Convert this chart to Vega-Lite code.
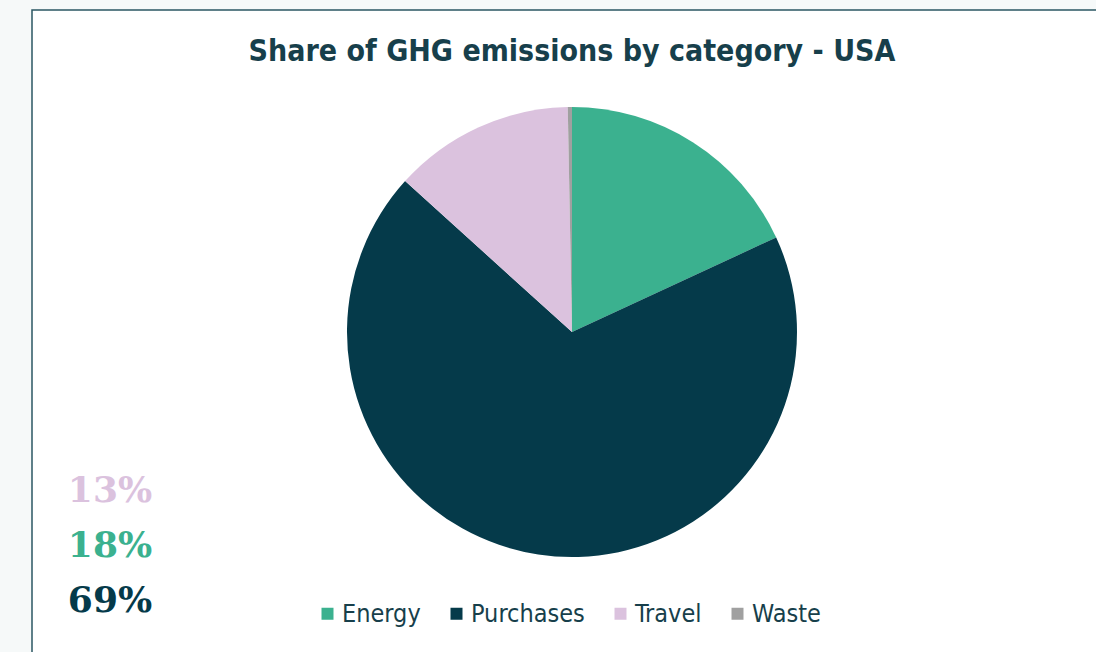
{
  "$schema": "https://vega.github.io/schema/vega-lite/v6.json",
  "autosize": {"type": "none"},
  "padding": {"left": 32, "top": 10, "right": 0, "bottom": 0},
  "width": 1080,
  "height": 644,
  "background": "#f6f9f9",
  "view": {"fill": "#ffffff", "stroke": "#2b5763", "strokeWidth": 1.5},
  "title": {
    "text": "Share of GHG emissions by category - USA",
    "font": "DejaVu Sans Condensed",
    "fontWeight": "bold",
    "fontSize": 30,
    "color": "#173f4b",
    "anchor": "middle",
    "baseline": "alphabetic",
    "offset": 0,
    "dy": 81
  },
  "data": {
    "values": [
      {"category": "Energy", "share": 0.181},
      {"category": "Purchases", "share": 0.686},
      {"category": "Travel", "share": 0.130},
      {"category": "Waste", "share": 0.003}
    ]
  },
  "layer": [
    {
      "mark": {"type": "arc", "outerRadius": 225},
      "encoding": {
        "theta": {"field": "share", "type": "quantitative", "stack": true},
        "color": {
          "field": "category",
          "type": "nominal",
          "scale": {
            "domain": ["Energy", "Purchases", "Travel", "Waste"],
            "range": ["#3bb18f", "#053a4a", "#dbc2de", "#a0a0a0"]
          },
          "legend": {
            "orient": "none",
            "legendX": 283,
            "legendY": 591,
            "direction": "horizontal",
            "title": null,
            "symbolType": "square",
            "symbolSize": 144,
            "symbolStrokeWidth": 0,
            "labelFont": "DejaVu Sans Condensed",
            "labelFontSize": 25,
            "labelColor": "#173f4b",
            "labelOffset": 2,
            "columnPadding": 23,
            "labelLimit": 0
          }
        }
      }
    },
    {
      "transform": [{"filter": "datum.category != 'Waste'"}],
      "mark": {
        "type": "text",
        "font": "DejaVu Serif",
        "fontWeight": "bold",
        "fontSize": 36,
        "align": "center",
        "baseline": "middle"
      },
      "encoding": {
        "x": {"value": 78},
        "y": {
          "field": "category",
          "type": "nominal",
          "sort": ["Travel", "Energy", "Purchases"],
          "scale": {"type": "point", "range": [481, 591], "padding": 0},
          "axis": null
        },
        "text": {"field": "share", "format": ".0%"},
        "color": {
          "field": "category",
          "type": "nominal",
          "scale": {
            "domain": ["Energy", "Purchases", "Travel", "Waste"],
            "range": ["#3bb18f", "#053a4a", "#dbc2de", "#a0a0a0"]
          }
        }
      }
    }
  ]
}
